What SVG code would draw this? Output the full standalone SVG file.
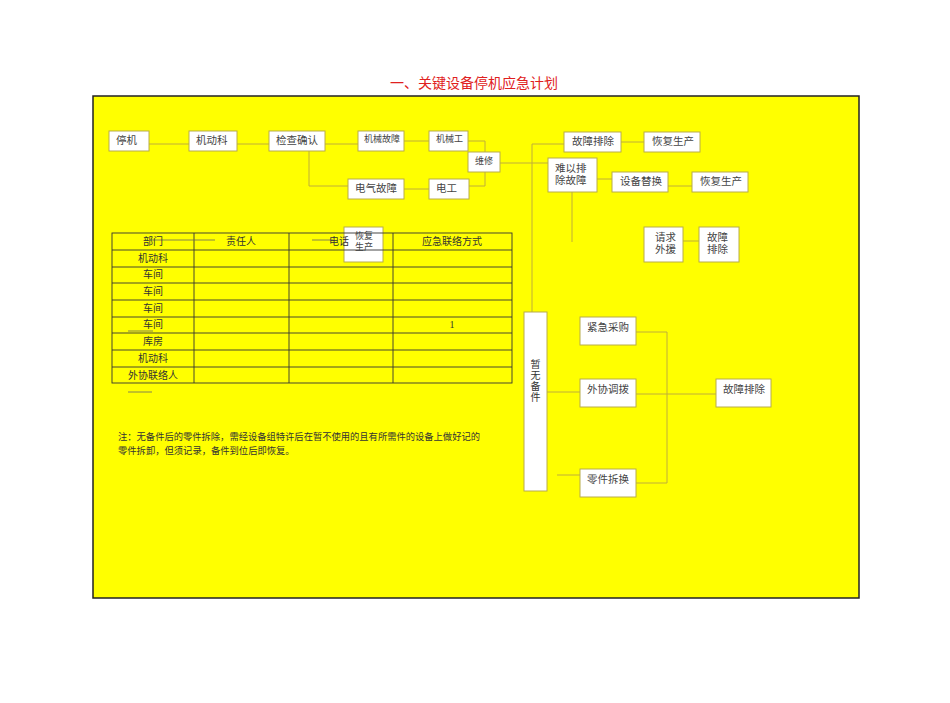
<svg xmlns="http://www.w3.org/2000/svg" width="950" height="703" viewBox="0 0 950 703">
<style>
.box{fill:#fff;stroke:#b8ac4a;stroke-width:1}
.ln{fill:none;stroke:#bfae3a;stroke-width:1}
.t{font-family:"Liberation Sans","Noto Sans CJK SC",sans-serif;font-size:10.5px;fill:#444}
.ts{font-family:"Liberation Serif","Noto Sans CJK SC",serif;font-size:9px;fill:#444}
.tm{font-family:"Liberation Serif","Noto Sans CJK SC",serif;font-size:10.5px;fill:#444}
.tb{font-family:"Liberation Serif","Noto Sans CJK SC",serif;font-size:10px;fill:#333;text-anchor:middle}
.grid{stroke:#333;stroke-width:0.9;fill:none}
.gl{stroke:#666;stroke-width:0.8}
</style>
<rect width="950" height="703" fill="#fff"/>
<text x="474" y="88" text-anchor="middle" font-family="'Liberation Sans','Noto Sans CJK SC',sans-serif" font-size="14" fill="#e02020">一、关键设备停机应急计划</text>
<rect x="93" y="96" width="766" height="502" fill="#ffff00" stroke="#222" stroke-width="1.5"/>

<g id="connectors">
<path class="ln" d="M149 144H189M237 144H269M325 144H358M404 141H429M309 151V186H348M404 189H429"/>
<path class="ln" d="M468 141H485V186H469M500 163H548M532 144V312M532 144H564M621 142H644M597 179H612M668 186H692M572 192V242M683 241H699"/>
<path class="ln" d="M547 392H580M557 475H580M636 332H667V483H636M636 394H716"/>
</g>

<g id="n-stop"><rect class="box" x="109" y="131" width="40" height="20"/><text class="t" x="116" y="144">停机</text></g>
<g id="n-jdk"><rect class="box" x="189" y="131" width="48" height="20"/><text class="t" x="196" y="144">机动科</text></g>
<g id="n-check"><rect class="box" x="269" y="131" width="56" height="20"/><text class="t" x="276" y="144">检查确认</text></g>
<g id="n-mfault"><rect class="box" x="358" y="131" width="46" height="20"/><text class="ts" x="364" y="142">机械故障</text></g>
<g id="n-mworker"><rect class="box" x="429" y="131" width="39" height="20"/><text class="ts" x="436" y="142">机械工</text></g>
<g id="n-repair"><rect class="box" x="468" y="152" width="32" height="20"/><text class="ts" x="475" y="164">维修</text></g>
<g id="n-efault"><rect class="box" x="348" y="179" width="56" height="20"/><text class="t" x="355" y="192">电气故障</text></g>
<g id="n-eworker"><rect class="box" x="429" y="179" width="40" height="20"/><text class="t" x="436" y="192">电工</text></g>

<g id="n-fix1"><rect class="box" x="564" y="132" width="57" height="20"/><text class="t" x="572" y="145">故障排除</text></g>
<g id="n-resume1"><rect class="box" x="644" y="132" width="56" height="20"/><text class="t" x="652" y="145">恢复生产</text></g>
<g id="n-hard"><rect class="box" x="548" y="158" width="49" height="34"/><text class="t" x="555" y="172">难以排</text><text class="t" x="555" y="184">除故障</text></g>
<g id="n-replace"><rect class="box" x="612" y="172" width="56" height="20"/><text class="t" x="620" y="185">设备替换</text></g>
<g id="n-resume2"><rect class="box" x="692" y="172" width="56" height="20"/><text class="t" x="700" y="185">恢复生产</text></g>
<g id="n-help"><rect class="box" x="644" y="227" width="39" height="35"/><text class="t" x="655" y="241">请求</text><text class="t" x="655" y="253">外援</text></g>
<g id="n-fix2"><rect class="box" x="699" y="227" width="40" height="35"/><text class="t" x="707" y="241">故障</text><text class="t" x="707" y="253">排除</text></g>

<g id="n-resume3"><rect class="box" x="344" y="227" width="39" height="35"/><text class="ts" x="355" y="239">恢复</text><text class="ts" x="355" y="250">生产</text></g>

<g id="table">
<rect class="grid" x="112" y="233" width="400" height="150"/>
<path class="grid" d="M112 250H512M112 267H512M112 283H512M112 300H512M112 317H512M112 333H512M112 350H512M112 367H512M194 233V383M289 233V383M393 233V383"/>
<path class="gl" d="M150 240H215M312 240H333M128 331H153M128 392H152"/>
<text class="tb" x="153" y="245">部门</text>
<text class="tb" x="241" y="245">责任人</text>
<text class="tb" x="339" y="245">电话</text>
<text class="tb" x="452" y="245">应急联络方式</text>
<text class="tb" x="153" y="262">机动科</text>
<text class="tb" x="153" y="278">车间</text>
<text class="tb" x="153" y="295">车间</text>
<text class="tb" x="153" y="312">车间</text>
<text class="tb" x="153" y="328">车间</text>
<text class="tb" x="153" y="345">库房</text>
<text class="tb" x="153" y="362">机动科</text>
<text class="tb" x="153" y="379">外协联络人</text>
<text class="tb" x="452" y="328">1</text>
</g>

<text font-family="'Liberation Serif','Noto Sans CJK SC',serif" font-size="9.3" fill="#333" x="118" y="440" textLength="362" lengthAdjust="spacingAndGlyphs">注：无备件后的零件拆除，需经设备组特许后在暂不使用的且有所需件的设备上做好记的</text>
<text font-family="'Liberation Serif','Noto Sans CJK SC',serif" font-size="9.3" fill="#333" x="118" y="454">零件拆卸，但须记录，备件到位后即恢复。</text>

<g id="n-nospare"><rect class="box" x="524" y="312" width="23" height="179"/>
<text class="tb" x="535.5" y="368">暂</text><text class="tb" x="535.5" y="379">无</text><text class="tb" x="535.5" y="390">备</text><text class="tb" x="535.5" y="401">件</text></g>
<g id="n-buy"><rect class="box" x="580" y="317" width="56" height="28"/><text class="tm" x="587" y="331">紧急采购</text></g>
<g id="n-transfer"><rect class="box" x="580" y="379" width="56" height="28"/><text class="tm" x="587" y="393">外协调拨</text></g>
<g id="n-swap"><rect class="box" x="580" y="469" width="56" height="28"/><text class="tm" x="587" y="483">零件拆换</text></g>
<g id="n-fix3"><rect class="box" x="716" y="379" width="55" height="28"/><text class="tm" x="723" y="393">故障排除</text></g>
</svg>
